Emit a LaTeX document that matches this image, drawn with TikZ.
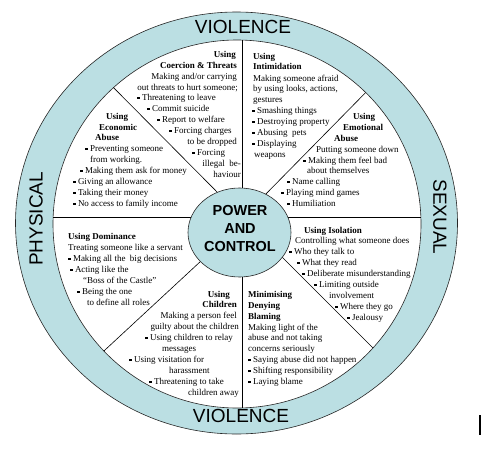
\documentclass[tikz,border=0pt]{standalone}
\usepackage{fontspec}
\setmainfont{Liberation Serif}
\newfontfamily\sansf{Liberation Sans}
\definecolor{ringblue}{RGB}{187,223,227}
\newcommand{\bul}{\raisebox{1.3pt}{\rule{2.3pt}{2.3pt}}\hspace{2.5pt}}
\begin{document}
\begin{tikzpicture}[x=1pt,y=-1pt,
 txt/.style={inner sep=0pt, font=\fontsize{9}{11}\selectfont},
 tl/.style={txt, anchor=mid west},
 tr/.style={txt, anchor=mid east},
 bl/.style={tl, font=\fontsize{9}{11}\selectfont\bfseries},
 br/.style={tr, font=\fontsize{9}{11}\selectfont\bfseries},
 big/.style={font=\sansf\fontsize{19}{19}\selectfont, inner sep=0pt},
 spoke/.style={draw=black, line width=0.6pt},
 rim/.style={draw=black!85, line width=0.6pt}]
\useasboundingbox (0,0) rectangle (481,452);
% wheel
\filldraw[rim, fill=ringblue] (236.5,223) ellipse [x radius=221pt, y radius=211pt];
\filldraw[rim, fill=white] (237,224) ellipse [x radius=184pt, y radius=184pt];
\begin{scope}
\clip (237,224) ellipse [x radius=184pt, y radius=184pt];
\draw[spoke] (242,30) -- (242,200);
\draw[spoke] (242,265) -- (242,420);
\draw[spoke] (40,217) -- (200,217);
\draw[spoke] (280,217) -- (430,217);
\draw[spoke] (100,74) -- (225,200);
\draw[spoke] (378,80) -- (259,201);
\draw[spoke] (215,248) -- (92,362);
\draw[spoke] (270,245) -- (390,365);
\end{scope}
\filldraw[rim, fill=ringblue] (239.5,232.5) ellipse [x radius=51.5pt, y radius=44.5pt];
\node[font=\sansf\bfseries\fontsize{14.5}{18}\selectfont, align=center, inner sep=0pt] (pc) at (240,229) {POWER\\AND\\CONTROL};
% ring labels
\node[big] (vt) at (243,27) {VIOLENCE};
\node[big] (vb) at (241,416) {VIOLENCE};
\node[big, rotate=90] (ph) at (36,219) {PHYSICAL};
\node[big, rotate=-90] (sx) at (440,217) {SEXUAL};
% black bar
\fill[black] (478.5,415) rectangle (481,435);
% Coercion & Threats
\node[br] (c1) at (236,55) {Using};
\node[br] (c2) at (237,66) {Coercion \& Threats};
\node[tr] (c3) at (237,77) {Making and/or carrying};
\node[tr] (c4) at (238,88) {out threats to hurt someone;};
\node[tl] (c5) at (137,98) {\bul Threatening to leave};
\node[tl] (c6) at (147,109) {\bul Commit suicide};
\node[tl] (c7) at (157,120) {\bul Report to welfare};
\node[tl] (c8) at (169,131) {\bul Forcing charges};
\node[tr] (c9) at (237,142) {to be dropped};
\node[tl] (c10) at (192,153) {\bul Forcing};
\node[tr] (c11) at (241,164) {illegal\ \ be-};
\node[tr] (c12) at (241,175) {haviour};
% Intimidation
\node[bl] (i1) at (253,57) {Using};
\node[bl] (i2) at (253,67) {Intimidation};
\node[tl] (i3) at (253,79) {Making someone afraid};
\node[tl] (i4) at (253,89) {by using looks, actions,};
\node[tl] (i5) at (253,100) {gestures};
\node[tl] (i6) at (252,111) {\bul Smashing things};
\node[tl] (i7) at (252,122) {\bul Destroying property};
\node[tl] (i8) at (252,133) {\bul Abusing\ \ pets};
\node[tl] (i9) at (252,144) {\bul Displaying};
\node[tl] (i10) at (254,155) {weapons};
% Emotional Abuse
\node[bl] (e1) at (353,117) {Using};
\node[bl] (e2) at (343,128) {Emotional};
\node[bl] (e3) at (334,139) {Abuse};
\node[tl] (e4) at (316,150) {Putting someone down};
\node[tl] (e5) at (303,161) {\bul Making them feel bad};
\node[tl] (e6) at (307,171) {about themselves};
\node[tl] (e7) at (287,182) {\bul Name calling};
\node[tl] (e8) at (281,193) {\bul Playing mind games};
\node[tl] (e9) at (287,204) {\bul Humiliation};
% Economic Abuse
\node[bl] (a1) at (106,117) {Using};
\node[bl] (a2) at (99,128) {Economic};
\node[bl] (a3) at (95,138) {Abuse};
\node[tl] (a4) at (85,149) {\bul Preventing someone};
\node[tl] (a5) at (90,160) {from working.};
\node[tl] (a6) at (80,171) {\bul Making them ask for money};
\node[tl] (a7) at (73,182) {\bul Giving an allowance};
\node[tl] (a8) at (73,193) {\bul Taking their money};
\node[tl] (a9) at (73,204) {\bul No access to family income};
% Isolation
\node[bl] (s1) at (304,231) {Using Isolation};
\node[tl] (s2) at (295,241) {Controlling what someone does};
\node[tl] (s3) at (289,252) {\bul Who they talk to};
\node[tl] (s4) at (297,263) {\bul What they read};
\node[tl] (s5) at (302,274) {\bul Deliberate misunderstanding};
\node[tl] (s6) at (314,285) {\bul Limiting outside};
\node[tl] (s7) at (329,296) {involvement};
\node[tl] (s8) at (335,307) {\bul Where they go};
\node[tl] (s9) at (347,318) {\bul Jealousy};
% Dominance
\node[bl] (d1) at (68,237) {Using Dominance};
\node[tl] (d2) at (68,248) {Treating someone like a servant};
\node[tl] (d3) at (68,259) {\bul Making all the\ \ big decisions};
\node[tl] (d4) at (70,270) {\bul Acting like the};
\node[tl] (d5) at (83,281) {``Boss of the Castle''};
\node[tl] (d6) at (77,292) {\bul Being the one};
\node[tl] (d7) at (87,303) {to define all roles};
% Children
\node[br] (h1) at (230,295) {Using};
\node[br] (h2) at (237,305) {Children};
\node[tr] (h3) at (237,316) {Making a person feel};
\node[tr] (h4) at (239,327) {guilty about the children};
\node[tr] (h5) at (233,338) {\bul Using children to relay};
\node[tl] (h6) at (162,349) {messages};
\node[tl] (h7) at (129,360) {\bul Using visitation for};
\node[tl] (h8) at (169,371) {harassment};
\node[tl] (h9) at (149,382) {\bul Threatening to take};
\node[tr] (h10) at (239,393) {children away};
% Minimising
\node[bl] (m1) at (248,295) {Minimising};
\node[bl] (m2) at (248,306) {Denying};
\node[bl] (m3) at (248,317) {Blaming};
\node[tl] (m4) at (248,328) {Making light of the};
\node[tl] (m5) at (248,338) {abuse and not taking};
\node[tl] (m6) at (248,349) {concerns seriously};
\node[tl] (m7) at (248,360) {\bul Saying abuse did not happen};
\node[tl] (m8) at (248,371) {\bul Shifting responsibility};
\node[tl] (m9) at (248,382) {\bul Laying blame};
\end{tikzpicture}
\end{document}
